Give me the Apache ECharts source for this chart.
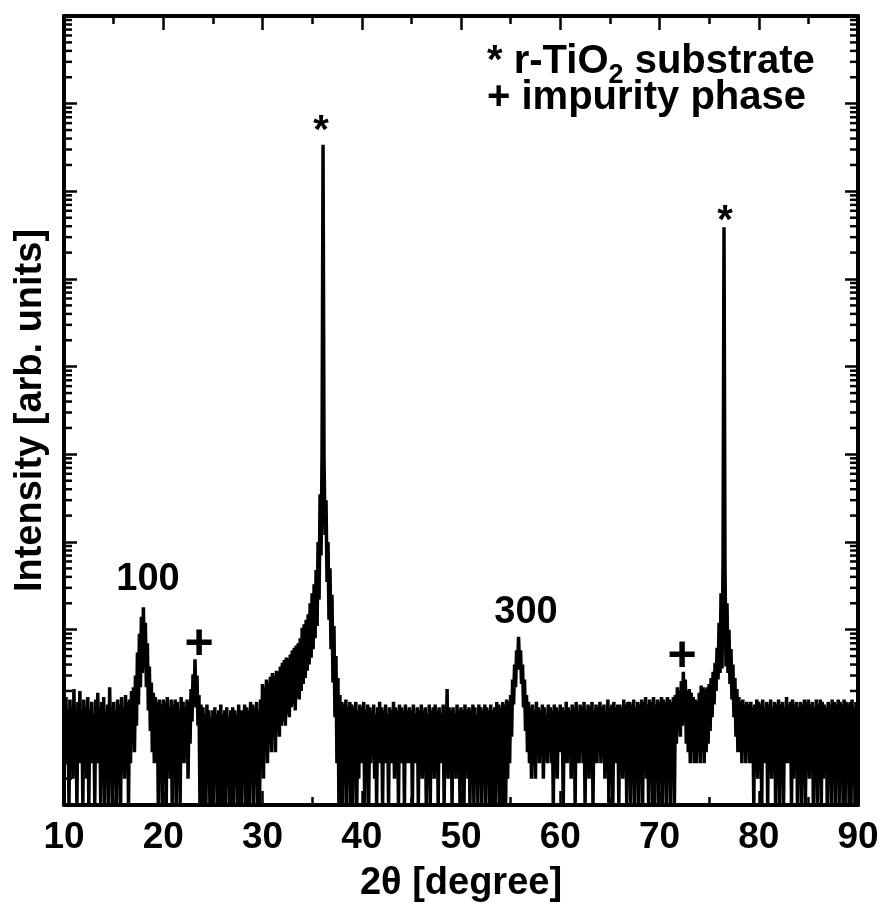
<!DOCTYPE html>
<html>
<head>
<meta charset="utf-8">
<script src="https://cdn.jsdelivr.net/npm/echarts@6/dist/echarts.min.js"></script>
<style>
html,body{margin:0;padding:0;background:#fff;}
#chart{width:883px;height:908px;}
</style>
</head>
<body>
<div id="chart"></div>
<script>
// ---- data ----
const twoThetaStart = 10;   // degrees
const twoThetaStep = 0.1;   // degrees
// intensity counts, one row per degree (x.0 ... x.9)
const counts = [
  14, 4, 17, 3, 12, 1, 16, 4, 13, 2,        // 10
  21, 4, 11, 1, 15, 3, 20, 4, 12, 1,        // 11
  16, 3, 13, 2, 17, 1, 12, 4, 15, 3,        // 12
  11, 1, 16, 3, 19, 4, 13, 1, 15, 2,        // 13
  17, 1, 12, 3, 14, 1, 22, 4, 13, 1,        // 14
  15, 3, 12, 1, 16, 4, 14, 1, 17, 3,        // 15
  13, 2, 18, 4, 15, 1, 16, 3, 20, 5,        // 16
  22, 4, 30, 8, 55, 14, 90, 22, 140, 32,    // 17
  180, 38, 120, 22, 70, 12, 38, 7, 25, 4,   // 18
  19, 3, 17, 4, 15, 1, 16, 3, 14, 1,        // 19
  16, 5, 15, 1, 17, 4, 13, 2, 16, 1,        // 20
  14, 4, 16, 1, 15, 5, 12, 1, 17, 4,        // 21
  15, 3, 13, 5, 16, 2, 15, 5, 21, 9,        // 22
  31, 14, 46, 13, 30, 8, 18, 1, 14, 1,      // 23
  13, 1, 11, 1, 14, 2, 12, 1, 10, 1,        // 24
  12, 1, 13, 2, 11, 1, 12, 1, 14, 1,        // 25
  11, 1, 12, 1, 13, 2, 10, 1, 12, 1,        // 26
  13, 1, 12, 2, 11, 1, 14, 1, 12, 1,        // 27
  12, 2, 14, 1, 13, 1, 12, 1, 15, 2,        // 28
  14, 1, 13, 2, 15, 1, 12, 1, 16, 3,        // 29
  24, 2, 22, 4, 27, 3, 25, 5, 29, 4,        // 30
  32, 6, 30, 4, 34, 7, 33, 6, 38, 8,        // 31
  42, 9, 45, 8, 48, 11, 47, 10, 52, 13,     // 32
  58, 14, 62, 12, 66, 17, 70, 16, 80, 20,   // 33
  105, 24, 115, 28, 130, 34, 150, 40, 200, 48,       // 34
  260, 60, 330, 80, 480, 110, 1000, 220, 3500, 700,  // 35
  10000, 3.4e7, 9000, 1200, 3000, 350, 1000, 130, 500, 60, // 36
  250, 25, 110, 10, 50, 3, 28, 1, 18, 1,    // 37
  15, 1, 14, 2, 16, 1, 13, 2, 15, 1,        // 38
  14, 1, 13, 3, 15, 1, 12, 2, 14, 3,        // 39
  13, 3, 15, 1, 12, 4, 14, 1, 13, 3,        // 40
  12, 4, 14, 2, 11, 1, 13, 3, 15, 4,        // 41
  13, 1, 12, 3, 14, 3, 11, 1, 13, 4,        // 42
  12, 3, 15, 2, 13, 4, 12, 1, 14, 3,        // 43
  13, 4, 12, 1, 14, 4, 12, 3, 13, 4,        // 44
  12, 1, 14, 3, 11, 4, 13, 1, 12, 3,        // 45
  14, 2, 12, 4, 13, 1, 11, 3, 14, 1,        // 46
  12, 4, 13, 2, 14, 3, 12, 1, 13, 4,        // 47
  11, 3, 14, 1, 12, 4, 21, 2, 13, 3,        // 48
  12, 1, 13, 4, 11, 2, 14, 3, 12, 1,        // 49
  13, 3, 12, 1, 14, 4, 12, 2, 13, 1,        // 50
  12, 4, 14, 1, 13, 3, 11, 1, 14, 2,        // 51
  13, 1, 12, 3, 14, 1, 13, 2, 12, 1,        // 52
  14, 1, 12, 1, 13, 1, 15, 2, 14, 1,        // 53
  13, 1, 15, 1, 14, 1, 16, 2, 15, 3,        // 54
  18, 6, 27, 14, 40, 22, 58, 35, 83, 38,    // 55
  58, 24, 40, 13, 27, 7, 18, 4, 15, 3,      // 56
  13, 2, 14, 3, 12, 2, 15, 4, 13, 3,        // 57
  12, 4, 14, 2, 13, 4, 11, 3, 14, 4,        // 58
  13, 3, 12, 1, 14, 4, 13, 2, 12, 4,        // 59
  14, 4, 13, 1, 12, 4, 15, 3, 13, 4,        // 60
  12, 2, 14, 4, 13, 1, 15, 4, 12, 3,        // 61
  14, 4, 13, 3, 15, 1, 12, 4, 14, 2,        // 62
  13, 4, 15, 1, 12, 4, 14, 3, 13, 4,        // 63
  15, 3, 13, 4, 14, 2, 12, 4, 16, 1,        // 64
  13, 4, 14, 1, 15, 4, 13, 3, 14, 1,        // 65
  14, 4, 13, 2, 16, 4, 14, 1, 15, 3,        // 66
  15, 1, 14, 4, 16, 1, 13, 4, 15, 1,        // 67
  14, 4, 16, 1, 15, 3, 17, 2, 14, 1,        // 68
  16, 3, 15, 1, 17, 1, 14, 4, 16, 1,        // 69
  15, 4, 17, 1, 16, 3, 15, 1, 17, 4,        // 70
  16, 1, 15, 3, 17, 1, 18, 5, 22, 8,        // 71
  20, 6, 26, 8, 33, 9, 27, 5, 20, 4,        // 72
  21, 3, 19, 4, 17, 3, 16, 3, 15, 4,        // 73
  19, 3, 23, 4, 22, 3, 21, 4, 22, 5,        // 74
  24, 7, 28, 10, 33, 14, 42, 20, 62, 27,    // 75
  120, 32, 260, 36, 600, 3.9e6, 500, 38, 200, 32, // 76
  100, 24, 60, 16, 40, 10, 28, 6, 21, 4,    // 77
  17, 4, 15, 3, 16, 4, 14, 3, 15, 4,        // 78
  14, 3, 15, 4, 13, 1, 14, 4, 16, 2,        // 79
  15, 4, 14, 1, 16, 3, 13, 4, 15, 1,        // 80
  14, 4, 16, 2, 13, 4, 15, 1, 14, 3,        // 81
  16, 1, 14, 4, 15, 1, 13, 4, 17, 3,        // 82
  14, 4, 15, 1, 16, 2, 14, 4, 15, 1,        // 83
  13, 4, 15, 1, 14, 4, 16, 1, 15, 3,        // 84
  16, 2, 14, 4, 15, 1, 13, 3, 16, 1,        // 85
  14, 4, 16, 1, 15, 2, 14, 4, 13, 1,        // 86
  15, 3, 14, 1, 16, 4, 15, 1, 14, 2,        // 87
  16, 1, 15, 3, 14, 1, 16, 1, 15, 4,        // 88
  14, 1, 15, 1, 16, 3, 13, 1, 15, 1,        // 89
  14                                        // 90
];
const xAxisMin = 10, xAxisMax = 90, xTickStep = 10;
const yAxisMin = 1, yAxisMax = 1e9;
const xAxisTitle = '2θ [degree]';
const yAxisTitle = 'Intensity [arb. units]';
const legendLine1 = ['* r-TiO', '2', ' substrate'];
const legendLine2 = '+ impurity phase';
const peakMarks = ['*', '*', '100', '300', '+', '+'];

// ---- build ----
const FONT = '"Liberation Sans", Arial, Helvetica, sans-serif';
const seriesData = counts.map((c, i) => [+(twoThetaStart + i * twoThetaStep).toFixed(1), c]);
const minorTickVals = [];
for (let e = 0; e < 9; e++) {
  for (let m = 2; m <= 9; m++) minorTickVals.push([xAxisMin, m * Math.pow(10, e)]);
}

const axisLine = {show: true, onZero: false, lineStyle: {color: '#000', width: 4}};
const axisTick = {show: true, inside: true, length: 14, lineStyle: {color: '#000', width: 2.5}};
const nameStyle = {color: '#000', fontSize: 38, fontWeight: 'bold', fontFamily: FONT};

function txt(text, x, y, size, align) {
  return {
    type: 'text', x: x, y: y, z: 10,
    style: {text: text, fill: '#000', fontSize: size, fontWeight: 'bold', fontFamily: FONT,
            align: align || 'center', verticalAlign: 'middle'}
  };
}

const chart = echarts.init(document.getElementById('chart'), null, {renderer: 'canvas'});
chart.setOption({
  animation: false,
  backgroundColor: '#fff',
  grid: {left: 64, right: 25, top: 16, bottom: 102},
  xAxis: [
    {
      type: 'value', min: xAxisMin, max: xAxisMax, interval: xTickStep, position: 'bottom',
      axisLine: axisLine, axisTick: axisTick,
      minorTick: {show: true, splitNumber: 2, length: 8, lineStyle: {color: '#000', width: 2.5}},
      axisLabel: {show: true, margin: 14, color: '#000', fontSize: 37, fontWeight: 'bold', fontFamily: FONT},
      splitLine: {show: false}, minorSplitLine: {show: false},
      name: xAxisTitle, nameLocation: 'middle', nameGap: 60, nameTextStyle: nameStyle
    },
    {
      type: 'value', min: xAxisMin, max: xAxisMax, interval: xTickStep, position: 'top',
      axisLine: axisLine, axisTick: axisTick,
      minorTick: {show: true, splitNumber: 2, length: 8, lineStyle: {color: '#000', width: 2.5}},
      axisLabel: {show: false}, splitLine: {show: false}
    }
  ],
  yAxis: [
    {
      type: 'log', logBase: 10, min: yAxisMin, max: yAxisMax, splitNumber: 9, position: 'left',
      axisLine: axisLine, axisTick: {show: true, inside: true, length: 13, lineStyle: {color: '#000', width: 2.5}},
      axisLabel: {show: false}, splitLine: {show: false},
      name: yAxisTitle, nameLocation: 'middle', nameGap: 14, nameTextStyle: nameStyle
    },
    {
      type: 'log', logBase: 10, min: yAxisMin, max: yAxisMax, splitNumber: 9, position: 'right',
      axisLine: axisLine, axisTick: {show: true, inside: true, length: 13, lineStyle: {color: '#000', width: 2.5}},
      axisLabel: {show: false}, splitLine: {show: false}
    }
  ],
  series: [
    {
      type: 'line', xAxisIndex: 0, yAxisIndex: 0, data: seriesData,
      showSymbol: false, symbol: 'none', clip: true,
      lineStyle: {color: '#000', width: 3.5, join: 'miter'}, z: 3
    },
    {
      type: 'custom', xAxisIndex: 0, yAxisIndex: 0, data: minorTickVals, encode: {x: 0, y: 1},
      silent: true, clip: false, z: 4,
      renderItem: function (params, api) {
        const v = api.value(1);
        const a = api.coord([xAxisMin, v]);
        const b = api.coord([xAxisMax, v]);
        return {
          type: 'group', children: [
            {type: 'line', shape: {x1: a[0], y1: a[1], x2: a[0] + 8, y2: a[1]}, style: {stroke: '#000', lineWidth: 2.5}},
            {type: 'line', shape: {x1: b[0], y1: b[1], x2: b[0] - 8, y2: b[1]}, style: {stroke: '#000', lineWidth: 2.5}}
          ]
        };
      }
    }
  ],
  graphic: [
    txt(peakMarks[0], 321, 132, 40),
    txt(peakMarks[1], 725, 222, 40),
    txt(peakMarks[2], 148, 580, 38),
    txt(peakMarks[3], 526, 613, 38),
    txt(peakMarks[4], 199, 645, 50),
    txt(peakMarks[5], 682, 657, 50),
    {
      type: 'text', x: 487, y: 42, z: 10,
      style: {
        text: '{m|' + legendLine1[0] + '}{s|' + legendLine1[1] + '}{m|' + legendLine1[2] + '}',
        fill: '#000', align: 'left', verticalAlign: 'top',
        rich: {
          m: {fontSize: 40, fontWeight: 'bold', fontFamily: FONT, lineHeight: 40, verticalAlign: 'top', fill: '#000'},
          s: {fontSize: 27, fontWeight: 'bold', fontFamily: FONT, lineHeight: 27, verticalAlign: 'top', padding: [20, 0, 0, 0], fill: '#000'}
        }
      }
    },
    txt(legendLine2, 487, 98, 40, 'left')
  ]
});
</script>
</body>
</html>
